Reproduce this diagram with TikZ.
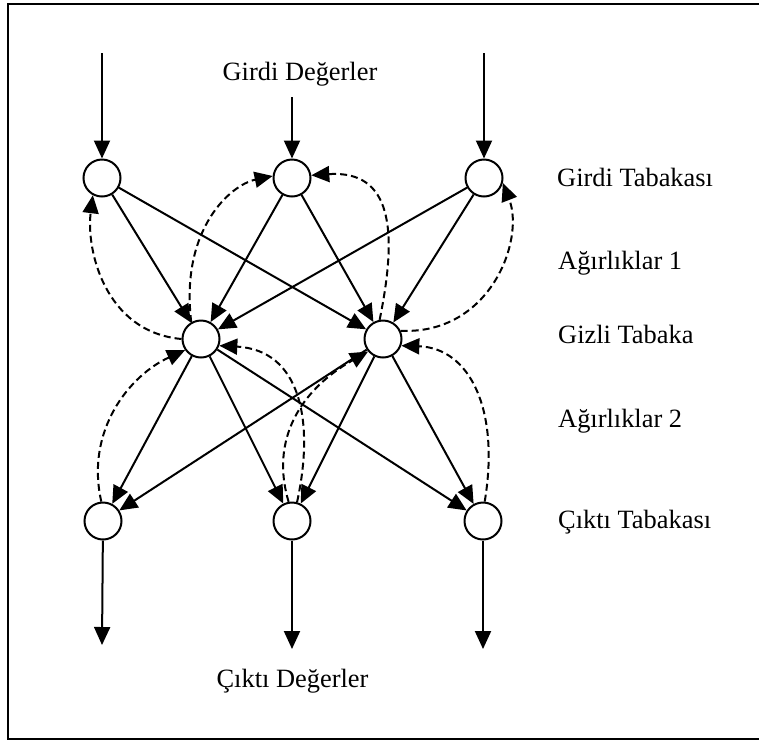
\documentclass[tikz,border=0pt]{standalone}
\usepackage{fontspec}
\setmainfont{Liberation Serif}
\usetikzlibrary{arrows.meta}
\begin{document}
\begin{tikzpicture}[x=1pt,y=-1pt,
  neuron/.style={circle,draw,line width=2pt,minimum size=37pt,inner sep=0pt},
  tip/.tip={Triangle[length=18pt,width=16pt]},
  arr/.style={line width=2pt,-tip},
  back/.style={line width=2pt,dash pattern=on 7pt off 4pt,-tip},
  lbl/.style={font=\fontsize{26.4}{30}\selectfont,inner sep=0pt}]
\useasboundingbox (0,0) rectangle (759,740);
\draw[line width=2pt] (775,4) -- (8,4) -- (8,739) -- (775,739);
% neurons
\node[neuron] (I1) at (102,178) {};
\node[neuron] (I2) at (292,178) {};
\node[neuron] (I3) at (484,178) {};
\node[neuron] (H1) at (201,339) {};
\node[neuron] (H2) at (383,339) {};
\node[neuron] (O1) at (103,521) {};
\node[neuron] (O2) at (292,521) {};
\node[neuron] (O3) at (483,521) {};
% free ends
\coordinate (a1) at (102,53);
\coordinate (a2) at (292,97);
\coordinate (a3) at (484,53);
\coordinate (b1) at (102,645);
\coordinate (b2) at (292,649);
\coordinate (b3) at (483,649);
% labels
\node[lbl,anchor=base] (tin) at (300,80.7) {Girdi Değerler};
\node[lbl,anchor=base] (tout) at (292.5,687) {Çıktı Değerler};
\node[lbl,anchor=base west] (l1) at (557,186.7) {Girdi Tabakası};
\node[lbl,anchor=base west] (l2) at (558,269) {Ağırlıklar 1};
\node[lbl,anchor=base west] (l3) at (558,343) {Gizli Tabaka};
\node[lbl,anchor=base west] (l4) at (558,427) {Ağırlıklar 2};
\node[lbl,anchor=base west] (l5) at (558,528) {Çıktı Tabakası};
% input / output arrows
\draw[arr] (a1) -- (I1);
\draw[arr] (a2) -- (I2);
\draw[arr] (a3) -- (I3);
\draw[arr] (O1) -- (b1);
\draw[arr] (O2) -- (b2);
\draw[arr] (O3) -- (b3);
% weights 1
\draw[arr] (I1) -- (H1);
\draw[arr] (I1) -- (H2);
\draw[arr] (I2) -- (H1);
\draw[arr] (I2) -- (H2);
\draw[arr] (I3) -- (H1);
\draw[arr] (I3) -- (H2);
% weights 2
\draw[arr] (H1) -- (O1);
\draw[arr] (H1) -- (O2);
\draw[arr] (H1) -- (O3);
\draw[arr] (H2) -- (O1);
\draw[arr] (H2) -- (O2);
\draw[arr] (H2) -- (O3);
% back propagation (dashed)
\draw[back] (H1.180) .. controls (105,332) and (86,250) .. (I1.-118);
\draw[back] (H1.120) .. controls (180,230) and (230,185) .. (I2.174);
\draw[back] (H2.100) .. controls (398,230) and (392,170) .. (I2.8);
\draw[back] (H2.25) .. controls (490,335) and (525,240) .. (I3.-15);
\draw[back] (O1.95) .. controls (85,430) and (130,375) .. (H1.-145);
\draw[back] (O2.100) .. controls (270,440) and (300,390) .. (H2.-140);
\draw[back] (O2.75) .. controls (315,420) and (300,350) .. (H1.-20);
\draw[back] (O3.85) .. controls (500,410) and (470,348) .. (H2.-20);
\end{tikzpicture}
\end{document}
